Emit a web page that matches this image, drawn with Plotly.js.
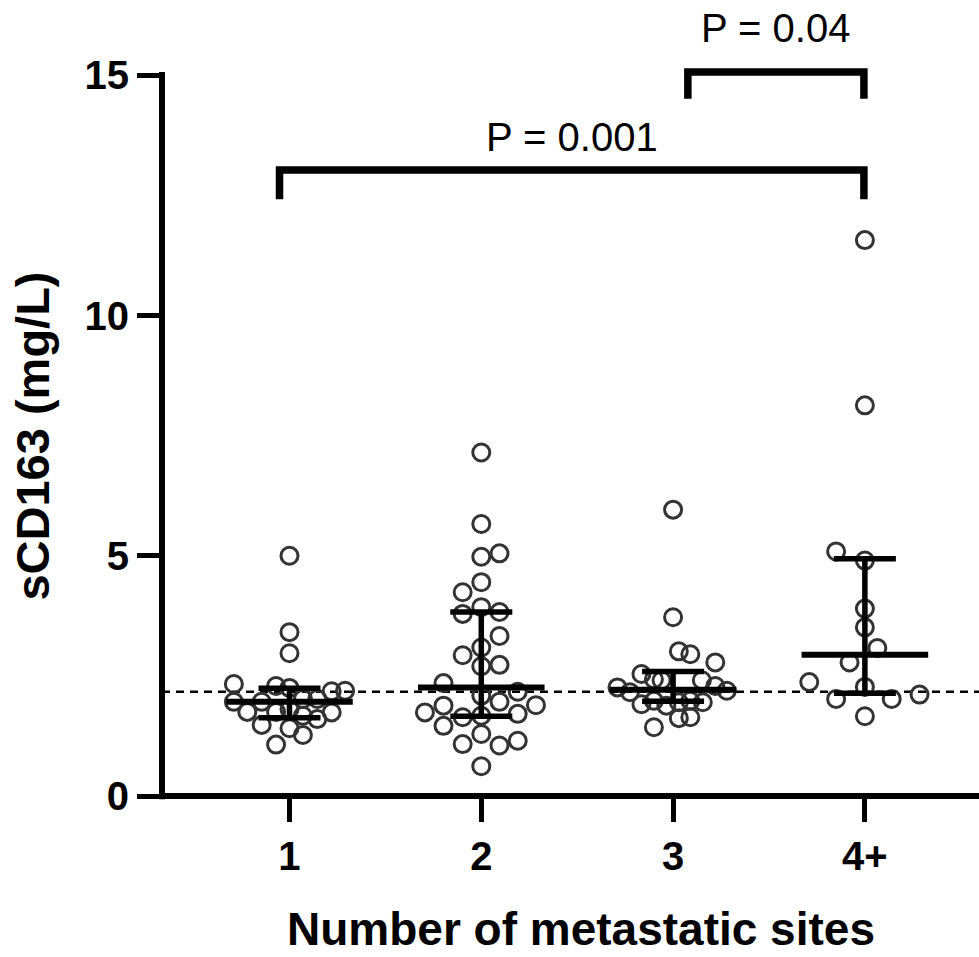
<!DOCTYPE html>
<html>
<head>
<meta charset="utf-8">
<script src="https://cdn.plot.ly/plotly-3.0.1.min.js"></script>
<style>
  html, body { margin: 0; padding: 0; background: #ffffff; }
  #chart { width: 979px; height: 957px; }
</style>
</head>
<body>
<div id="chart"></div>
<script>
// ---------------- DATA ----------------
const categories = ['1', '2', '3', '4+'];
const catPos = [1, 2, 3, 4];

// sCD163 values (mg/L) per group
const values1 = [5.00, 3.41, 2.97, 2.33, 2.29, 2.25, 2.18, 2.19, 1.96, 1.96, 2.02, 2.02, 1.75, 1.75, 1.81, 1.74, 1.60, 1.67, 1.48, 1.41, 1.27, 1.07];
const values2 = [7.15, 5.66, 4.98, 5.05, 4.45, 4.24, 3.79, 3.93, 3.83, 3.33, 3.09, 2.93, 2.70, 2.73, 2.35, 2.17, 2.09, 1.96, 1.88, 1.89, 1.74, 1.64, 1.67, 1.71, 1.46, 1.29, 1.08, 1.05, 1.15, 0.62];
const values3 = [5.96, 3.72, 3.01, 2.95, 2.78, 2.54, 2.43, 2.41, 2.41, 2.26, 2.16, 2.29, 2.19, 1.91, 1.98, 1.88, 1.95, 1.98, 1.95, 1.62, 1.64, 1.43];
const values4 = [11.57, 8.13, 5.09, 4.90, 3.90, 3.51, 3.08, 2.78, 2.37, 2.27, 2.02, 2.02, 2.11, 1.66];

// horizontal scatter (beeswarm) offsets, in category units
const offsets1 = [0, 0, 0, -0.29, -0.07, 0, 0.22, 0.29, -0.29, -0.145, 0.07, 0.145, -0.22, -0.07, 0, 0.22, 0.145, 0.07, -0.145, 0, 0.07, -0.07];
const offsets2 = [0, 0, 0, 0.095, 0, -0.097, -0.097, 0, 0.095, 0.095, 0, -0.097, 0, 0.095, -0.197, 0.19, 0, 0.095, -0.197, 0.285, -0.294, -0.097, 0, 0.19, -0.197, 0, -0.097, 0.095, 0.19, 0];
const offsets3 = [0, 0, 0.03, 0.09, 0.22, -0.165, -0.10, -0.06, 0.15, -0.29, -0.225, 0.22, 0.28, -0.165, -0.10, -0.035, 0.03, 0.09, 0.155, 0.03, 0.09, -0.10];
const offsets4 = [0, 0, -0.15, 0, 0, 0, 0.065, -0.08, -0.29, 0, -0.15, 0.14, 0.285, 0];

// median and interquartile range per group
const medians = [1.96, 2.26, 2.21, 2.94];
const q1s = [1.63, 1.66, 1.97, 2.14];
const q3s = [2.24, 3.83, 2.59, 4.94];

// dashed reference line
const refLine = 2.17;

// significance comparisons
const pLabels = ['P = 0.001', 'P = 0.04'];
const pFrom = [0.948, 3.077];
const pTo = [3.995, 3.995];
const pTop = [13.03, 15.07];
const pLegBottom = [12.42, 14.51];
const pLabelY = [13.71, 15.99];

// ---------------- CHART ----------------
const FONT = 'Liberation Sans, Arial, Helvetica, sans-serif';
const groupValues = [values1, values2, values3, values4];
const groupOffsets = [offsets1, offsets2, offsets3, offsets4];
const yMax = 16.4;
const medianHalf = 0.33;

const traces = [];
groupValues.forEach(function (vals, g) {
  traces.push({
    type: 'scatter',
    mode: 'markers',
    x: vals.map(function (v, i) { return catPos[g] + groupOffsets[g][i]; }),
    y: vals,
    marker: { symbol: 'circle-open', size: 17, color: '#333333', line: { width: 3, color: '#333333' } },
    hoverinfo: 'skip',
    showlegend: false
  });
});

// median lines
const mx = [], my = [];
medians.forEach(function (m, g) {
  mx.push(catPos[g] - medianHalf, catPos[g] + medianHalf, null);
  my.push(m, m, null);
});
traces.push({
  type: 'scatter', mode: 'lines', x: mx, y: my,
  line: { color: '#000000', width: 6 }, hoverinfo: 'skip', showlegend: false
});

// IQR error bars
traces.push({
  type: 'scatter', mode: 'markers', x: catPos, y: medians,
  marker: { size: 1, color: 'rgba(0,0,0,0)' },
  error_y: {
    type: 'data', symmetric: false,
    array: q3s.map(function (q, i) { return q - medians[i]; }),
    arrayminus: q1s.map(function (q, i) { return medians[i] - q; }),
    width: 31, thickness: 5.5, color: '#000000'
  },
  hoverinfo: 'skip', showlegend: false
});

const shapes = [
  // dashed reference line
  { type: 'line', xref: 'paper', x0: 0, x1: 1, yref: 'y', y0: refLine, y1: refLine,
    line: { color: '#000000', width: 2.5, dash: '8px,6px' }, layer: 'below' },
  // x axis line
  { type: 'line', xref: 'paper', x0: 0, x1: 1, yref: 'paper', y0: 0, y1: 0,
    line: { color: '#000000', width: 6 }, layer: 'above' },
  // y axis line (0 to 15)
  { type: 'line', xref: 'paper', x0: 0, x1: 0, yref: 'paper', y0: -0.004, y1: 15 / yMax + 0.004,
    line: { color: '#000000', width: 6 }, layer: 'above' }
];
const annotations = [];
pLabels.forEach(function (lab, i) {
  shapes.push({
    type: 'path', xref: 'x', yref: 'y',
    path: 'M' + pFrom[i] + ',' + pLegBottom[i] + ' L' + pFrom[i] + ',' + pTop[i] +
          ' L' + pTo[i] + ',' + pTop[i] + ' L' + pTo[i] + ',' + pLegBottom[i],
    line: { color: '#000000', width: 7.5 }, layer: 'above'
  });
  annotations.push({
    xref: 'x', yref: 'y', x: (pFrom[i] + pTo[i]) / 2, y: pLabelY[i],
    text: lab, showarrow: false, xanchor: 'center', yanchor: 'middle',
    font: { family: FONT, size: 40, color: '#000000' }
  });
});
// axis titles
annotations.push({
  xref: 'paper', yref: 'y', x: -0.158, y: 7.5, text: 'sCD163 (mg/L)', textangle: -90,
  showarrow: false, xanchor: 'center', yanchor: 'middle',
  font: { family: FONT, size: 47, color: '#000000', weight: 'bold' }
});
annotations.push({
  xref: 'x', yref: 'paper', x: 2.52, y: -0.2025, text: 'Number of metastatic sites',
  showarrow: false, xanchor: 'center', yanchor: 'bottom', borderpad: 0,
  font: { family: FONT, size: 46, color: '#000000', weight: 'bold' }
});

const layout = {
  width: 979, height: 957,
  margin: { l: 162, r: 0, t: 8, b: 161 },
  paper_bgcolor: '#ffffff', plot_bgcolor: '#ffffff',
  showlegend: false,
  font: { family: FONT, color: '#000000' },
  xaxis: {
    range: [0.3353, 4.595], tickvals: catPos, ticktext: categories,
    showgrid: false, zeroline: false, showline: false,
    ticks: 'outside', ticklen: 25, tickwidth: 5, tickcolor: '#000000',
    tickfont: { family: FONT, size: 40, color: '#000000', weight: 'bold' }
  },
  yaxis: {
    range: [0, yMax], tickvals: [0, 5, 10, 15], ticktext: ['0', '5', '10', '15'],
    showgrid: false, zeroline: false, showline: false,
    ticks: 'outside', ticklen: 24, tickwidth: 5, tickcolor: '#000000',
    tickfont: { family: FONT, size: 40, color: '#000000', weight: 'bold' }
  },
  shapes: shapes,
  annotations: annotations
};

Plotly.newPlot('chart', traces, layout, { displayModeBar: false, staticPlot: true });
</script>
</body>
</html>
